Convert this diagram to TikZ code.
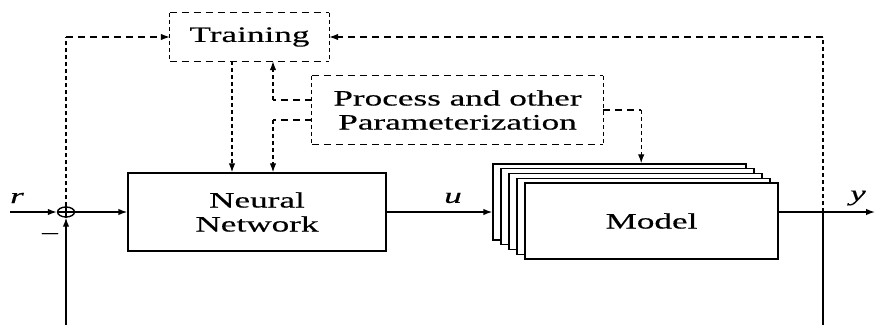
\documentclass[tikz,border=0pt]{standalone}
\usepackage{fontspec}
\setmainfont[FakeStretch=1.6,FakeBold=0.4]{Liberation Serif}
\usetikzlibrary{arrows.meta,shapes.geometric}
\begin{document}
\begin{tikzpicture}[x=1pt,y=-1pt,
  every node/.style={font=\fontsize{22}{24}\selectfont},
  tip/.style={-{Latex[length=9pt,width=6.5pt]}},
  hd/.style={line width=1.2pt,dash pattern=on 7pt off 5pt},
  vd/.style={line width=1.2pt,dash pattern=on 4pt off 3pt},
  sl/.style={line width=1.4pt},
  blk/.style={rectangle,inner sep=0pt,align=center}]
\useasboundingbox (0,0) rectangle (875,325);

% blocks
\node[blk,minimum width=159pt,minimum height=48pt] (train) at (249.5,37) {Training};
\node[blk,minimum width=291pt,minimum height=68pt] (proc) at (457.5,110) {Process and other\\Parameterization};
\node[blk,draw,sl,minimum width=258pt,minimum height=78pt] (nn) at (257,212) {Neural\\Network};
\foreach \i in {0,...,3}{
  \node[blk,draw,sl,fill=white,minimum width=253pt,minimum height=76pt] (m\i) at (619.5+8*\i,202+4.75*\i) {};
}
\node[blk,draw,sl,fill=white,minimum width=253pt,minimum height=76pt] (m4) at (651.5,221) {Model};

% dashed box outlines
\draw[hd] (train.north west) -- (train.north east) (train.south west) -- (train.south east);
\draw[vd] (train.north west) -- (train.south west) (train.north east) -- (train.south east);
\draw[hd] (proc.north west) -- (proc.north east) (proc.south west) -- (proc.south east);
\draw[vd] (proc.north west) -- (proc.south west) (proc.north east) -- (proc.south east);

% summing junction
\node[ellipse,draw,sl,minimum width=17pt,minimum height=10pt,inner sep=0pt] (sum) at (66,212) {};
\draw[line width=1.1pt] (sum.north) -- (sum.south) (sum.west) -- (sum.east);

% coordinates
\coordinate (in) at (10,212);
\coordinate (fb) at (66,325);
\coordinate (tap) at (823,212);
\coordinate (tb) at (823,325);
\coordinate (out) at (875,212);
\coordinate (c1) at (sum.north |- train.west);
\coordinate (c2) at (tap |- train.east);
\coordinate (p1) at ([yshift=10pt]proc.west);
\coordinate (p2) at ([yshift=-10pt]proc.west);
\coordinate (k1) at ([xshift=23.5pt]train.south |- p1);
\coordinate (k2) at ([xshift=23.5pt]train.south |- p2);
\coordinate (t1) at ([xshift=-17.5pt]train.south);
\coordinate (k3) at ([xshift=38pt]proc.east);

% dashed connectors
\draw[vd] (sum.north) -- (c1);
\draw[hd,tip] (c1) -- (train.west);
\draw[vd] (tap) -- (c2);
\draw[hd,tip] (c2) -- (train.east);
\draw[vd,tip] (t1) -- (t1 |- nn.north);
\draw[hd] (p1) -- (k1);
\draw[vd,tip] (k1) -- (k1 |- train.south);
\draw[hd] (p2) -- (k2);
\draw[vd,tip] (k2) -- (k2 |- nn.north);
\draw[hd] (proc.east) -- (k3);
\draw[vd,tip] (k3) -- (k3 |- m0.north);

% solid connectors
\draw[sl,tip] (in) -- (sum.west);
\draw[sl,tip] (sum.east) -- (nn.west);
\draw[sl,tip] (fb) -- (sum.south);
\draw[sl,tip] (nn.east) -- (m0.west |- nn.east);
\draw[sl,tip] (m4.east |- nn.east) -- (out);
\draw[sl] (tap) -- (tb);

% labels
\node (lr) at (17,198) {\itshape r};
\node (lu) at (453,198) {\itshape u};
\node (ly) at (858,198) {\itshape y};
\node (lm) at (50,237) {−};
\end{tikzpicture}
\end{document}
